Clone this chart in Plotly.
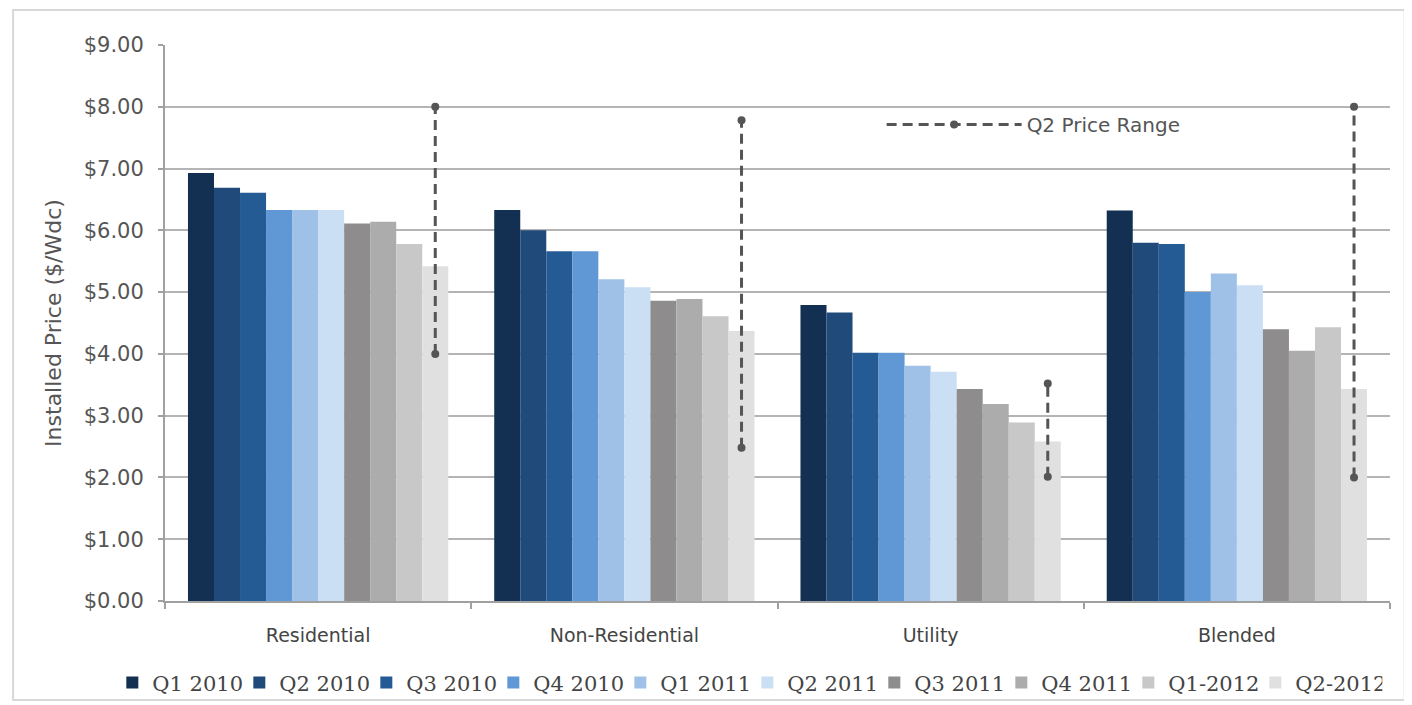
import plotly.graph_objects as go

categories = ["Residential", "Non-Residential", "Utility", "Blended"]
series_names = ["Q1 2010", "Q2 2010", "Q3 2010", "Q4 2010", "Q1 2011",
                "Q2 2011", "Q3 2011", "Q4 2011", "Q1-2012", "Q2-2012"]
values = {
    "Q1 2010": [6.93, 6.33, 4.79, 6.32],
    "Q2 2010": [6.69, 6.00, 4.67, 5.80],
    "Q3 2010": [6.61, 5.66, 4.02, 5.78],
    "Q4 2010": [6.33, 5.66, 4.02, 5.00],
    "Q1 2011": [6.33, 5.21, 3.81, 5.30],
    "Q2 2011": [6.33, 5.08, 3.71, 5.11],
    "Q3 2011": [6.11, 4.86, 3.43, 4.40],
    "Q4 2011": [6.14, 4.89, 3.19, 4.05],
    "Q1-2012": [5.78, 4.61, 2.89, 4.43],
    "Q2-2012": [5.42, 4.37, 2.58, 3.43],
}
q2_low = [4.00, 2.48, 2.01, 2.00]
q2_high = [8.00, 7.78, 3.52, 8.00]
y_ticks = [0, 1, 2, 3, 4, 5, 6, 7, 8, 9]
y_tick_labels = ["$%.2f" % v for v in y_ticks]

colors = ["#132f52", "#1f4a7a", "#255b94", "#5f98d4", "#9fc1e7",
          "#cadff4", "#8e8c8c", "#acacac", "#c8c8c8", "#e0e0e0"]

fig = go.Figure()
for name, col in zip(series_names, colors):
    fig.add_trace(go.Bar(
        x=categories, y=values[name], name=name,
        marker=dict(color=col, line=dict(width=0)),
        legend="legend",
    ))

# range lines: grouped scatter traces so the range sits on the Q2-2012 slot
rx, ry = [], []
for c, lo, hi in zip(categories, q2_low, q2_high):
    rx += [c, c, c]
    ry += [lo, hi, None]

for i, name in enumerate(series_names):
    if name == "Q2-2012":
        fig.add_trace(go.Scatter(
            x=rx, y=ry, mode="lines+markers", name="Q2 Price Range",
            line=dict(color="#555555", width=3, dash="10px,6px"),
            marker=dict(color="#555555", size=8),
            legend="legend2", connectgaps=False,
        ))
    else:
        fig.add_trace(go.Scatter(
            x=categories, y=[None] * len(categories), mode="markers",
            showlegend=False, hoverinfo="skip",
        ))

# the page body has an 8px default margin, so the figure is sized to fit
fig.update_layout(
    width=1404, height=697,
    paper_bgcolor="white", plot_bgcolor="white",
    margin=dict(l=157, r=22, t=37, b=104, autoexpand=False),
    barmode="group", bargap=0.15, bargroupgap=0,
    scattermode="group", scattergap=0.15,
    font=dict(family="DejaVu Sans", color="#555555"),
    legend=dict(
        orientation="h", x=-0.043, xanchor="left", y=-0.147, yanchor="middle",
        font=dict(family="DejaVu Serif", size=21, color="#444444"),
        itemwidth=30, entrywidth=82, traceorder="normal",
        bgcolor="rgba(0,0,0,0)",
    ),
    legend2=dict(
        x=0.585, xanchor="left", y=0.857, yanchor="middle",
        font=dict(family="DejaVu Sans", size=20, color="#555555"),
        itemwidth=135, bgcolor="rgba(0,0,0,0)",
    ),
    showlegend=True,
)
fig.update_yaxes(
    range=[0, 9], tickvals=y_ticks, ticktext=y_tick_labels,
    showgrid=True, gridcolor="#b4b4b4", gridwidth=2,
    showline=True, linecolor="#a0a0a0", linewidth=2,
    ticks="outside", ticklen=5, tickcolor="#a0a0a0", tickwidth=2,
    ticklabelstandoff=10,
    tickfont=dict(family="DejaVu Sans", size=21, color="#555555"),
    title=dict(text="Installed Price ($/Wdc)", standoff=16,
               font=dict(family="DejaVu Sans", size=22, color="#555555")),
    zeroline=False,
)
fig.update_xaxes(
    showline=True, linecolor="#a0a0a0", linewidth=2,
    ticks="outside", tickson="boundaries", ticklen=6, tickcolor="#a0a0a0", tickwidth=2,
    ticklabelstandoff=16,
    tickfont=dict(family="DejaVu Sans", size=19, color="#444444"),
)
fig.add_shape(type="rect", xref="paper", yref="paper",
              x0=-0.124, x1=1.012, y0=-0.178, y1=1.063,
              line=dict(color="#d8d8d8", width=2), layer="below")

fig.write_html("out.html")
